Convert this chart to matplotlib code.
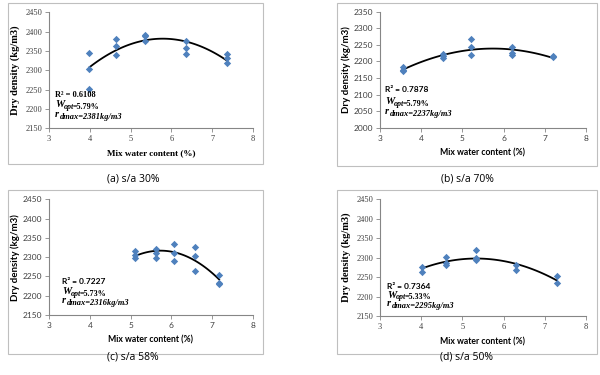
import numpy as np
import matplotlib
matplotlib.use('Agg')
import matplotlib.pyplot as plt
from matplotlib.patches import Rectangle

# ===== DANE =====
# (a) s/a 30%
x_a = [3.99, 3.99, 3.99, 4.64, 4.64, 4.64, 5.36, 5.36, 5.36, 6.35, 6.35, 6.35, 7.36, 7.36, 7.36]
y_a = [2346, 2303, 2252, 2381, 2363, 2339, 2391, 2388, 2377, 2376, 2357, 2343, 2342, 2332, 2320]
# (b) s/a 70%
x_b = [3.57, 3.57, 3.57, 4.52, 4.52, 4.52, 5.22, 5.22, 5.22, 6.21, 6.21, 6.21, 7.21, 7.21]
y_b = [2182, 2175, 2170, 2222, 2215, 2210, 2267, 2244, 2220, 2243, 2224, 2218, 2215, 2212]
# (c) s/a 58%
x_c = [5.10, 5.10, 5.10, 5.63, 5.63, 5.63, 6.07, 6.07, 6.07, 6.59, 6.59, 6.59, 7.17, 7.17, 7.17]
y_c = [2315, 2305, 2297, 2321, 2311, 2298, 2334, 2311, 2290, 2326, 2304, 2263, 2255, 2232, 2230]
# (d) s/a 50%
x_d = [4.02, 4.02, 4.60, 4.60, 4.60, 5.32, 5.32, 5.32, 6.29, 6.29, 7.29, 7.29]
y_d = [2277, 2264, 2301, 2285, 2281, 2320, 2300, 2293, 2281, 2267, 2254, 2236]

captions = ['(a) s/a 30%', '(b) s/a 70%', '(c) s/a 58%', '(d) s/a 50%']
r2_vals = ['0.6108', '0.7878', '0.7227', '0.7364']
w_opt = ['5.79%', '5.79%', '5.73%', '5.33%']
r_dmax = ['2381', '2237', '2316', '2295']
ylims = [(2150, 2450), (2000, 2350), (2150, 2450), (2150, 2450)]

# ===== WYGLAD =====
W, H = 600, 375
BLUE = '#4f81bd'
SPINE = '#868686'
SERIF = 'Liberation Serif'
SANS = 'Lato'

# pozycje w pikselach: (lewo, prawo, gora, dol) osi
axes_px = [(49, 253, 12.3, 128.3), (380, 586, 11.7, 127.7),
           (49, 253, 199.3, 315), (380, 586, 199.3, 316)]
box_px = [(8, 263, 3, 164), (337, 597, 3, 166), (8, 263, 190, 354), (337, 597, 190, 354)]
cap_px = [(133, 179), (467, 179), (133, 357), (467, 357)]
serif_panel = [True, False, False, True]
xlab_serif = [True, False, False, False]
r2_serif = [True, False, False, False]
# x tekstu, linie bazowe: R2, W, r
txt_px = [(55, 97.3, 107.7, 119.3), (385, 91.7, 105, 116.5),
          (62, 284.3, 295, 305), (387, 288.6, 298, 307.5)]


def ftxt(x, y, s, **kw):
    fig.text(x / W, 1 - y / H, s, va='baseline', ha='left', **kw)


fig = plt.figure(figsize=(6, 3.75), dpi=100)

data = [(x_a, y_a), (x_b, y_b), (x_c, y_c), (x_d, y_d)]
for i, (xs, ys) in enumerate(data):
    l, r, t, b = axes_px[i]
    ax = fig.add_axes([l / W, 1 - b / H, (r - l) / W, (b - t) / H])

    # ramka wokol wykresu
    bl, br, bt, bb = box_px[i]
    fig.patches.append(Rectangle((bl / W, 1 - bb / H), (br - bl) / W, (bb - bt) / H,
                                 transform=fig.transFigure, fill=False,
                                 edgecolor='#bfbfbf', linewidth=0.8))

    ax.scatter(xs, ys, marker='D', s=14, color=BLUE, zorder=3, linewidths=0)
    coef = np.polyfit(xs, ys, 2)
    xx = np.linspace(min(xs), max(xs), 100)
    ax.plot(xx, np.polyval(coef, xx), color='black', linewidth=1.3, zorder=2)

    ax.set_xlim(3, 8)
    ax.set_ylim(*ylims[i])
    ax.set_xticks(range(3, 9))
    ax.set_yticks(np.arange(ylims[i][0], ylims[i][1] + 1, 50))
    for s in ['top', 'right']:
        ax.spines[s].set_visible(False)
    for s in ['left', 'bottom']:
        ax.spines[s].set_color(SPINE)
        ax.spines[s].set_linewidth(0.8)
    ax.tick_params(length=3, width=0.6, color=SPINE, labelsize=6, pad=2)
    tf = SERIF if serif_panel[i] else SANS
    for lab in ax.get_xticklabels() + ax.get_yticklabels():
        lab.set_fontfamily(tf)
        lab.set_color('#404040')

    if xlab_serif[i]:
        ax.set_xlabel('Mix water content (%)', fontsize=6.6, fontweight='bold',
                      family=SERIF, labelpad=4)
    else:
        ax.set_xlabel('Mix water content (%)', fontsize=6.2, fontweight='bold',
                      family=SANS, labelpad=5)
    if serif_panel[i]:
        ax.set_ylabel('Dry density (kg/m3)', fontsize=7.6, fontweight='bold',
                      family=SERIF, labelpad=4)
    else:
        ax.set_ylabel('Dry density (kg/m3)', fontsize=7, fontweight='bold',
                      family=SANS, labelpad=2)

    # opis dopasowania
    tx, b1, b2, b3 = txt_px[i]
    ftxt(tx, b1, 'R' + '\u00b2' + ' = ' + r2_vals[i], fontsize=6,
         fontweight='bold', family=SERIF if r2_serif[i] else SANS)
    ftxt(tx, b2 - 0.5, 'W', fontsize=7.5, fontweight='bold', style='italic', family=SERIF)
    ftxt(tx + 9, b2 + 1, 'opt', fontsize=5.8, fontweight='bold', style='italic', family=SERIF)
    ftxt(tx + 18, b2 + 1, '=' + w_opt[i], fontsize=5.8, fontweight='bold', family=SERIF)
    ftxt(tx, b3 - 2, 'r', fontsize=7.5, fontweight='bold', style='italic', family=SERIF)
    ftxt(tx + 5, b3, 'dmax=' + r_dmax[i] + 'kg/m3', fontsize=6, fontweight='bold',
         style='italic', family=SERIF)

    fig.text(cap_px[i][0] / W, 1 - cap_px[i][1] / H, captions[i], ha='center', va='center',
             fontsize=7.5, family='Open Sans')

fig.savefig('out.png', dpi=100)
